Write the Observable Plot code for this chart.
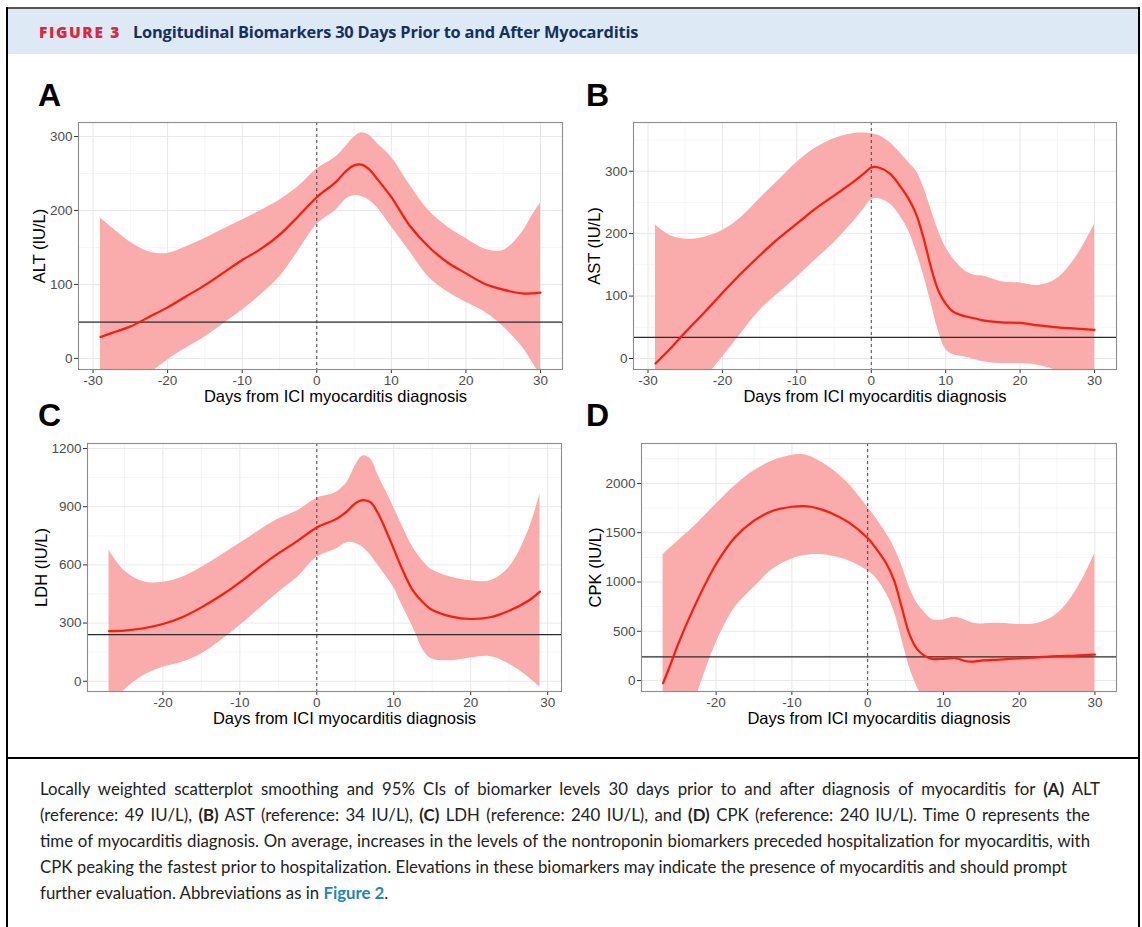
<!DOCTYPE html>
<html>
<head>
<meta charset="utf-8">
<script src="https://cdn.jsdelivr.net/npm/d3@7"></script>
<script src="https://cdn.jsdelivr.net/npm/@observablehq/plot@0.6"></script>
<style>
  html, body { margin: 0; padding: 0; background: #fff; }
  #page { position: relative; width: 1142px; height: 927px; overflow: hidden; font-family: "Liberation Sans", Arial, sans-serif; }
  .border-top { position: absolute; left: 6px; top: 7px; width: 1134px; height: 2px; background: #555; }
  .border-left { position: absolute; left: 6px; top: 7px; width: 2px; height: 930px; background: #000; }
  .border-right { position: absolute; left: 1138px; top: 7px; width: 2px; height: 930px; background: #000; }
  .sep { position: absolute; left: 6px; top: 757px; width: 1134px; height: 2px; background: #000; }
  .header { position: absolute; left: 8px; top: 9px; width: 1130px; height: 45px; background: #dde9f5; }
  .header .fig { position: absolute; left: 31px; top: 12px; font-family: "Open Sans", sans-serif; font-weight: 800; font-size: 15.5px; letter-spacing: 1.6px; color: #e0243a; }
  .header .title { position: absolute; left: 125px; top: 11px; font-family: "Open Sans", sans-serif; font-weight: 700; font-size: 16.4px; color: #14305e; letter-spacing: -0.2px; }
  .plabel { position: absolute; font-family: "Liberation Sans", Arial, sans-serif; font-weight: 700; font-size: 32px; color: #000; line-height: 1; }
  .panel { position: absolute; }
  .caption { position: absolute; left: 40px; top: 776px; font-family: "Lato", sans-serif; font-size: 16.8px; line-height: 26px; color: #222; white-space: nowrap; }
  .caption .ln { text-align: justify; text-align-last: justify; white-space: normal; }
  .caption .last { white-space: nowrap; }
  .caption b { font-weight: 700; }
  .caption .lnk { color: #1b87b8; font-weight: 700; }
  .panel svg g[aria-label="x-axis tick label"] text, .panel svg g[aria-label="y-axis tick label"] text { font-size: 13.5px; fill: #4d4d4d; }
  .panel svg g[aria-label="x-axis label"] text, .panel svg g[aria-label="y-axis label"] text { font-size: 16.5px; fill: #000; }
</style>
</head>
<body>
<div id="page">
  <div class="header">
    <span class="fig">FIGURE 3</span>
    <span class="title">Longitudinal Biomarkers 30 Days Prior to and After Myocarditis</span>
  </div>
  <div class="border-top"></div>
  <div class="border-left"></div>
  <div class="border-right"></div>
  <div class="sep"></div>
  <div class="plabel" style="left:38px; top:79px;">A</div>
  <div class="plabel" style="left:586px; top:79px;">B</div>
  <div class="plabel" style="left:38px; top:399px;">C</div>
  <div class="plabel" style="left:586px; top:399px;">D</div>
  <div class="panel" id="pA" style="left:0px; top:110px;"></div>
  <div class="panel" id="pB" style="left:570px; top:110px;"></div>
  <div class="panel" id="pC" style="left:0px; top:428px;"></div>
  <div class="panel" id="pD" style="left:570px; top:428px;"></div>
  <div class="caption">
    <div class="ln" style="width:1060px;">Locally weighted scatterplot smoothing and 95% CIs of biomarker levels 30 days prior to and after diagnosis of myocarditis for <b>(A)</b> ALT</div>
    <div class="ln" style="width:1050px;">(reference: 49 IU/L), <b>(B)</b> AST (reference: 34 IU/L), <b>(C)</b> LDH (reference: 240 IU/L), and <b>(D)</b> CPK (reference: 240 IU/L). Time 0 represents the</div>
    <div class="ln" style="width:1050px;">time of myocarditis diagnosis. On average, increases in the levels of the nontroponin biomarkers preceded hospitalization for myocarditis, with</div>
    <div class="ln" style="width:1027px;">CPK peaking the fastest prior to hospitalization. Elevations in these biomarkers may indicate the presence of myocarditis and should prompt</div>
    <div class="last">further evaluation. Abbreviations as in <span class="lnk">Figure 2</span>.</div>
  </div>
</div>
<script>
// ---------- Panel A: ALT ----------
const altDays  = [-29,-27,-25,-22.5,-20,-17.5,-15,-12.5,-10,-7.5,-5,-2.5,0,2.5,4,5,6,7,8,10,12.5,15,17.5,20,22.5,25,27.5,29,30];
const altFit   = [29,36,43,56,69,84,99,116,133,148,167,192,218,238,254,261,262,256,244,218,179,151,130,115,101,93,88,88,89];
const altUpper = [190,173,157,144,142,151,162,175,187,200,214,232,256,272,288,299,305,302,292,272,234,200,178,162,148,146,170,195,210];
const altLower = [-95,-72,-50,-22,-2,14,29,47,65,86,110,145,181,200,216,220,219,214,205,178,144,110,90,76,63,43,16,-7,-22];
const altRef = 49;
const altYTicks = [0,100,200,300];
const altYMinor = [50,150,250];
const altXTicks = [-30,-20,-10,0,10,20,30];
const altXMinor = [-25,-15,-5,5,15,25];

// ---------- Panel B: AST ----------
const astDays  = [-29,-27,-25,-22.5,-20,-17.5,-15,-12.5,-10,-7.5,-5,-2.5,-1,0,1,2.5,4,5,6,7,8,9,10,11,12.5,14,15,17.5,20,22.5,25,27.5,30];
const astFit   = [-8,16,42,73,105,136,165,192,216,240,261,282,296,306,306,296,274,256,232,194,147,109,88,75,68,64,61,58,57,53,50,48,46];
const astUpper = [214,197,191,194,205,226,256,285,314,337,352,360,361,360,357,346,328,314,301,275,240,205,178,160,141,133,132,123,121,117,128,162,215];
const astLower = [-110,-88,-62,-33,2,40,77,104,130,158,186,218,240,254,256,248,226,205,173,135,90,45,15,6,3,-2,-5,-8,-8,-11,-20,-40,-70];
const astRef = 34;
const astYTicks = [0,100,200,300];
const astYMinor = [50,150,250,350];
const astXTicks = [-30,-20,-10,0,10,20,30];
const astXMinor = [-25,-15,-5,5,15,25];

// ---------- Panel C: LDH ----------
const ldhDays  = [-27,-25,-22.5,-20,-17.5,-15,-12.5,-10,-7.5,-5,-2.5,0,2.5,4,5,6,7,8,9,10,11,12.5,14,15,17.5,20,22.5,25,27.5,29];
const ldhFit   = [258,261,273,295,330,381,441,510,587,659,724,793,836,879,917,934,922,862,776,682,587,467,398,367,333,321,330,364,415,462];
const ldhUpper = [676,570,513,510,536,587,647,711,776,836,879,944,973,1030,1111,1162,1145,1059,980,896,810,690,610,573,536,518,518,587,776,965];
const ldhLower = [-130,-45,29,72,98,141,209,287,373,458,536,639,682,716,711,690,650,595,540,484,400,278,149,115,106,120,127,89,21,-31];
const ldhRef = 240;
const ldhYTicks = [0,300,600,900,1200];
const ldhYMinor = [150,450,750,1050];
const ldhXTicks = [-20,-10,0,10,20,30];
const ldhXMinor = [-25,-15,-5,5,15,25];

// ---------- Panel D: CPK ----------
const cpkDays  = [-27,-26,-25,-22.5,-20,-17.5,-15,-12.5,-10,-8.5,-7.5,-5,-2.5,0,1,2.5,3.5,4.5,5.5,6.5,7.5,8.5,10,11.5,13,14,15,17.5,20,22.5,25,27.5,30];
const cpkFit   = [-27,169,372,811,1182,1453,1622,1723,1763,1770,1763,1706,1605,1446,1351,1182,1013,743,473,321,253,220,220,230,196,193,203,213,226,236,247,253,263];
const cpkUpper = [1277,1350,1419,1594,1790,1976,2128,2230,2287,2290,2270,2162,1993,1757,1660,1486,1351,1170,950,790,692,620,615,642,610,581,574,581,568,581,676,912,1290];
const cpkLower = [-1000,-800,-600,-130,380,743,946,1132,1233,1265,1277,1267,1216,1115,1050,878,700,420,140,-60,-200,-300,-350,-330,-300,-290,-280,-260,-250,-270,-330,-450,-700];
const cpkRef = 240;
const cpkYTicks = [0,500,1000,1500,2000];
const cpkYMinor = [250,750,1250,1750,2250];
const cpkXTicks = [-20,-10,0,10,20,30];
const cpkXMinor = [-25,-15,-5,5,15,25];

const xLabel = "Days from ICI myocarditis diagnosis";

function panel(el, cfg) {
  const rows = cfg.days.map((d, i) => ({day: d, fit: cfg.fit[i], lo: cfg.lower[i], hi: cfg.upper[i]}));
  const chart = Plot.plot({
    width: cfg.width, height: cfg.height,
    marginLeft: cfg.ml, marginRight: cfg.mr, marginTop: cfg.mt, marginBottom: cfg.mb,
    style: {fontFamily: '"Liberation Sans", Arial, sans-serif', background: "transparent", overflow: "visible"},
    x: {domain: cfg.xDomain},
    y: {domain: cfg.yDomain},
    marks: [
      Plot.gridX(cfg.xMinor, {stroke: "#f3f3f3", strokeOpacity: 1, strokeWidth: 0.8}),
      Plot.gridY(cfg.yMinor, {stroke: "#f3f3f3", strokeOpacity: 1, strokeWidth: 0.8}),
      Plot.gridX(cfg.xTicks, {stroke: "#e8e8e8", strokeOpacity: 1, strokeWidth: 1}),
      Plot.gridY(cfg.yTicks, {stroke: "#e8e8e8", strokeOpacity: 1, strokeWidth: 1}),
      Plot.areaY(rows, {x: "day", y1: "lo", y2: "hi", fill: "#faabab", curve: "catmull-rom", clip: true}),
      Plot.ruleY([cfg.ref], {stroke: "#2b2b2b", strokeWidth: 1.3}),
      Plot.ruleX([0], {stroke: "#333", strokeWidth: 0.9, strokeDasharray: "3,3"}),
      Plot.line(rows, {x: "day", y: "fit", stroke: "#ff1a0a", strokeWidth: 2.2, curve: "catmull-rom", clip: true}),
      Plot.axisX(cfg.xTicks, {tickSize: 4, tickPadding: 2, stroke: "#333", tickFormat: d => String(d).replace("−","-"), label: xLabel, labelAnchor: "center", labelArrow: "none", labelOffset: 32}),
      Plot.axisY(cfg.yTicks, {tickSize: 4, tickPadding: 2, stroke: "#333", tickFormat: d => String(d), label: cfg.yLabel, labelAnchor: "center", labelArrow: "none", labelOffset: cfg.ylo}),
      Plot.frame({stroke: "#8c8c8c", strokeWidth: 1.1})
    ]
  });
  if (cfg.xlShift) {
    const g = chart.querySelector('g[aria-label="x-axis label"]');
    if (g) g.setAttribute("transform", `translate(${cfg.xlShift},0) ` + (g.getAttribute("transform") || ""));
  }
  document.getElementById(el).appendChild(chart);
}

panel("pA", {days: altDays, fit: altFit, upper: altUpper, lower: altLower, ref: altRef,
  yTicks: altYTicks, yMinor: altYMinor, xTicks: altXTicks, xMinor: altXMinor,
  xDomain: [-31.95, 32.95], yDomain: [-15, 319], yLabel: "ALT (IU/L)",
  width: 570, height: 299, ml: 78, mr: 8, mt: 12, mb: 40, ylo: 45, xlShift: 15});
panel("pB", {days: astDays, fit: astFit, upper: astUpper, lower: astLower, ref: astRef,
  yTicks: astYTicks, yMinor: astYMinor, xTicks: astXTicks, xMinor: astXMinor,
  xDomain: [-31.95, 32.95], yDomain: [-17.6, 378], yLabel: "AST (IU/L)",
  width: 572, height: 299, ml: 63, mr: 26, mt: 12, mb: 40, ylo: 45, xlShift: 0});
panel("pC", {days: ldhDays, fit: ldhFit, upper: ldhUpper, lower: ldhLower, ref: ldhRef,
  yTicks: ldhYTicks, yMinor: ldhYMinor, xTicks: ldhXTicks, xMinor: ldhXMinor,
  xDomain: [-29.8, 31.8], yDomain: [-53, 1226], yLabel: "LDH (IU/L)",
  width: 570, height: 303, ml: 87, mr: 9, mt: 15, mb: 40, ylo: 52, xlShift: 20});
panel("pD", {days: cpkDays, fit: cpkFit, upper: cpkUpper, lower: cpkLower, ref: cpkRef,
  yTicks: cpkYTicks, yMinor: cpkYMinor, xTicks: cpkXTicks, xMinor: cpkXMinor,
  xDomain: [-29.85, 32.85], yDomain: [-111, 2405], yLabel: "CPK (IU/L)",
  width: 572, height: 303, ml: 71, mr: 26, mt: 15, mb: 40, ylo: 52, xlShift: 0});
</script>
</body>
</html>
